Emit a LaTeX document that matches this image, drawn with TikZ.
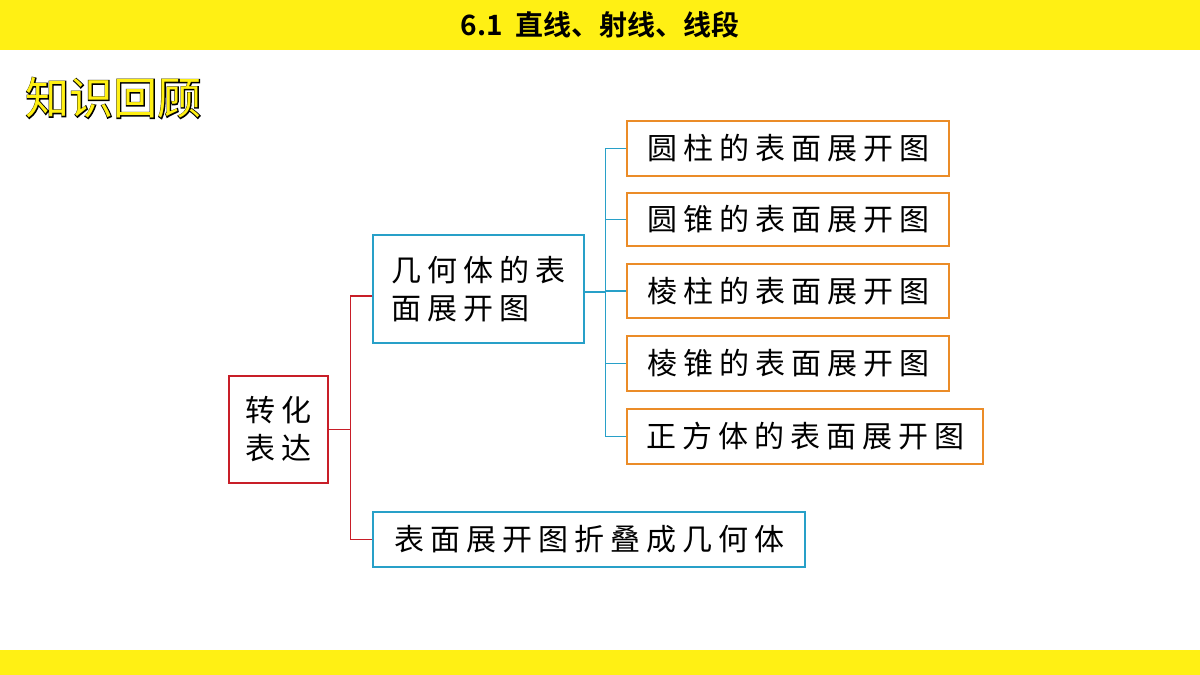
\documentclass[tikz,border=0pt]{standalone}
\usepackage{fontspec}
\newfontfamily\cjk[LetterSpace=20]{Noto Sans CJK SC}
\newfontfamily\cjkb[FakeBold=4]{Noto Sans CJK SC}
\newfontfamily\cjkt{Noto Sans CJK SC}
\newfontfamily\cjktb{Noto Sans CJK SC Bold}
\definecolor{barcol}{RGB}{255,240,20}
\definecolor{rline}{RGB}{200,30,40}
\definecolor{bline}{RGB}{40,160,200}
\definecolor{oline}{RGB}{235,140,40}
\begin{document}
\begin{tikzpicture}[x=1pt,y=-1pt,
  bx/.style={draw,line width=1.5pt,inner sep=0,font=\cjk\fontsize{30}{40}\selectfont,text=black}]
\useasboundingbox (0,0) rectangle (1200,675);
\fill[white] (0,0) rectangle (1200,675);
\fill[fill=barcol] (0,0) rectangle (1200,50);
\fill[fill=barcol] (0,650) rectangle (1200,675);
\node (title) at (600,25) {\cjktb\fontsize{28}{30}\selectfont 6.1\ \ 直线、射线、线段};
\node[anchor=west] (zs0) at (22,98) {\cjkb\fontsize{44}{48}\selectfont 知识回顾};
\node[anchor=west,text=barcol] (zs) at (22,98) {\cjkt\fontsize{44}{48}\selectfont 知识回顾};
% boxes
\node[bx,draw=rline,minimum width=99,minimum height=107,align=center] (root) at (278.5,429.5) {转化\\[-2pt]表达};
\node[bx,draw=bline,minimum width=211,minimum height=108,align=left] (a) at (478.5,289) {几何体的表\\[-2pt]面展开图};
\node[bx,draw=bline,minimum width=432,minimum height=55] (b) at (589,539.5) {表面展开图折叠成几何体};
\node[bx,draw=oline,minimum width=322,minimum height=55] (c1) at (788,148.5) {圆柱的表面展开图};
\node[bx,draw=oline,minimum width=322,minimum height=53] (c2) at (788,219.5) {圆锥的表面展开图};
\node[bx,draw=oline,minimum width=322,minimum height=54] (c3) at (788,291) {棱柱的表面展开图};
\node[bx,draw=oline,minimum width=322,minimum height=55] (c4) at (788,363.5) {棱锥的表面展开图};
\node[bx,draw=oline,minimum width=356,minimum height=55] (c5) at (805,436.5) {正方体的表面展开图};
% connectors
\draw[rline,line width=1.3pt] (root.east) -- ++(22,0) coordinate (rj);
\draw[rline,line width=1.3pt] ([yshift=-7pt]a.west) -| (rj) |- (b.west);
\draw[bline,line width=1.3pt] ([yshift=-3pt]a.east) -- ++(21,0) coordinate (bj);
\draw[bline,line width=1.3pt] (c1.west) -| (bj) |- (c5.west);
\foreach \c in {c2,c3,c4} \draw[bline,line width=1.3pt] (\c.west) -- (\c.west -| bj);
\end{tikzpicture}
\end{document}
